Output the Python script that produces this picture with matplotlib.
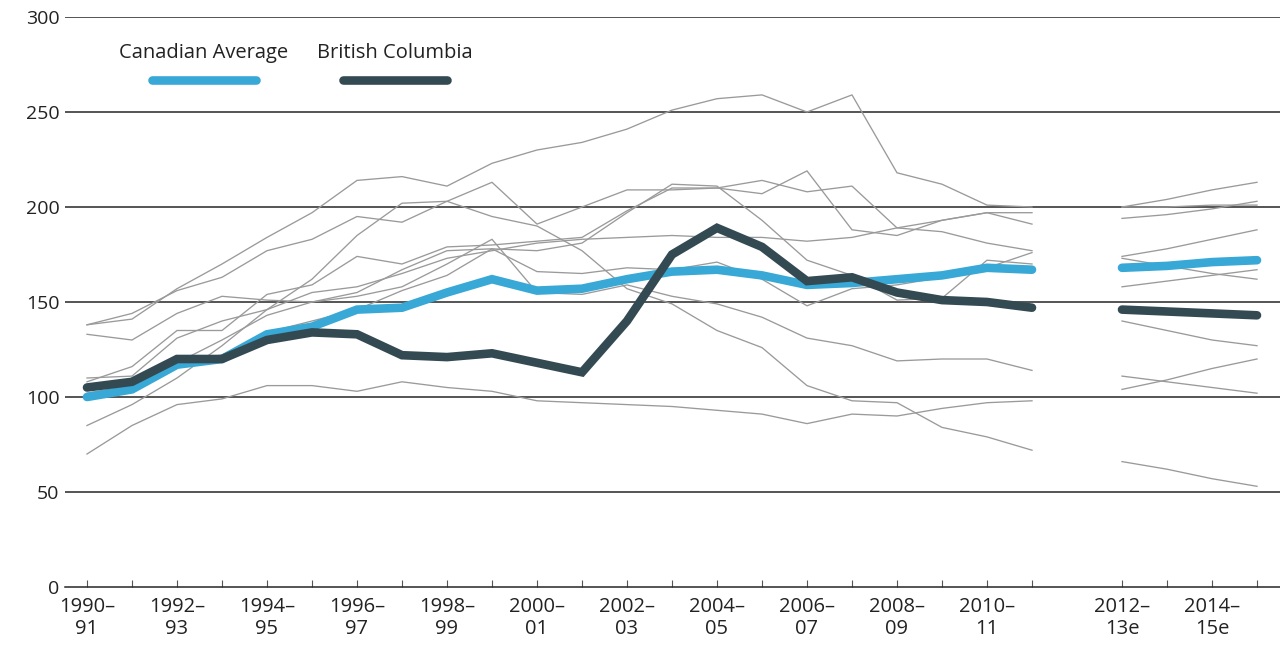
import numpy as np
import matplotlib
matplotlib.use('Agg')
import matplotlib.pyplot as plt

plt.rcParams['font.family'] = ['Open Sans', 'DejaVu Sans']

# Fiscal years, actual and estimated
years_hist = ['1990–91', '1991–92', '1992–93', '1993–94', '1994–95', '1995–96',
              '1996–97', '1997–98', '1998–99', '1999–00', '2000–01', '2001–02',
              '2002–03', '2003–04', '2004–05', '2005–06', '2006–07', '2007–08',
              '2008–09', '2009–10', '2010–11', '2011–12']
years_proj = ['2012–13e', '2013–14e', '2014–15e', '2015–16e']

canada_hist = [100, 104, 117, 120, 133, 137, 146, 147, 155, 162, 156, 157,
               162, 166, 167, 164, 159, 160, 162, 164, 168, 167]
canada_proj = [168, 169, 171, 172]

bc_hist = [105, 108, 120, 120, 130, 134, 133, 122, 121, 123, 118, 113,
           140, 175, 189, 179, 161, 163, 155, 151, 150, 147]
bc_proj = [146, 145, 144, 143]

# other provinces (grey lines)
others_hist = [
    [138, 141, 157, 170, 184, 197, 214, 216, 211, 223, 230, 234, 241, 251, 257, 259, 250, 259, 218, 212, 201, 200],
    [138, 144, 156, 163, 177, 183, 195, 192, 203, 213, 191, 200, 209, 209, 210, 214, 208, 211, 189, 187, 181, 177],
    [85, 96, 110, 127, 146, 162, 185, 202, 203, 195, 190, 177, 157, 149, 135, 126, 106, 98, 97, 84, 79, 72],
    [102, 106, 118, 130, 143, 150, 153, 158, 170, 183, 155, 154, 159, 153, 149, 142, 131, 127, 119, 120, 120, 114],
    [70, 85, 96, 99, 106, 106, 103, 108, 105, 103, 98, 97, 96, 95, 93, 91, 86, 91, 90, 94, 97, 98],
    [108, 116, 135, 135, 154, 159, 174, 170, 179, 180, 182, 184, 198, 210, 210, 207, 219, 188, 185, 193, 197, 191],
    [133, 130, 144, 153, 151, 150, 155, 167, 177, 178, 177, 181, 197, 212, 211, 193, 172, 164, 151, 152, 172, 170],
    [110, 111, 131, 140, 146, 155, 158, 165, 173, 177, 181, 183, 184, 185, 184, 184, 182, 184, 189, 193, 197, 197],
    [100, 104, 120, 122, 134, 140, 146, 156, 164, 178, 166, 165, 168, 167, 171, 162, 148, 157, 159, 163, 168, 176],
]
others_proj = [
    [200, 204, 209, 213],
    [200, 200, 201, 201],
    [194, 196, 199, 203],
    [174, 178, 183, 188],
    [173, 169, 165, 162],
    [158, 161, 164, 167],
    [140, 135, 130, 127],
    [111, 108, 105, 102],
    [104, 109, 115, 120],
    [66, 62, 57, 53],
]

x_hist = np.arange(len(years_hist))
x_proj = np.arange(len(years_proj)) + len(years_hist) + 1

GREY = '#9a9a9a'
BLUE = '#38a8d6'
DARK = '#344a53'
GRID = '#262626'

fig = plt.figure(figsize=(12.8, 6.48), dpi=100)
ax = fig.add_axes([65 / 1280, 61 / 648, 1215 / 1280, 570 / 648])

for vals in others_hist:
    ax.plot(x_hist, vals, color=GREY, lw=0.95, zorder=2)
for vals in others_proj:
    ax.plot(x_proj, vals, color=GREY, lw=0.95, zorder=2)

line_kw = dict(lw=6.2, solid_capstyle='round', solid_joinstyle='miter', zorder=4)
ax.plot(x_hist, canada_hist, color=BLUE, **line_kw)
ax.plot(x_proj, canada_proj, color=BLUE, **line_kw)
ax.plot(x_hist, bc_hist, color=DARK, **line_kw)
ax.plot(x_proj, bc_proj, color=DARK, **line_kw)

# horizontal rules
for yv in range(50, 301, 50):
    ax.axhline(yv, color=GRID, lw=1.1, zorder=1)

ax.set_xlim(-22 / 45, (1280 - 87) / 45)
ax.set_ylim(0, 300)
for side in ['top', 'right', 'left']:
    ax.spines[side].set_visible(False)
ax.spines['bottom'].set_color(GRID)
ax.spines['bottom'].set_linewidth(1.1)

ax.set_yticks(range(0, 301, 50))
ax.set_yticklabels([str(v) for v in range(0, 301, 50)])
ax.tick_params(axis='y', length=0, pad=4, labelsize=14, labelcolor='#222222')

all_x = list(x_hist) + list(x_proj)
all_years = years_hist + years_proj
ax.set_xticks(all_x)
labels = []
for i, yr in enumerate(all_years):
    if i % 2 == 0:
        a, b = yr.split('–')
        labels.append(a + '–\n' + b)
    else:
        labels.append('')
ax.set_xticklabels(labels, linespacing=1.15)
ax.tick_params(axis='x', direction='in', length=5, width=0.8, color='#555555',
               pad=7, labelsize=14.5, labelcolor='#222222')

# legend
leg = [('Canadian Average', BLUE, 0.0716, 0.1572), ('British Columbia', DARK, 0.2288, 0.3144)]
for name, col, x0, x1 in leg:
    ax.text((x0 + x1) / 2, 0.937, name, transform=ax.transAxes, ha='center',
            va='center', fontsize=14.5, color='#222222')
    ax.plot([x0, x1], [0.8895, 0.8895], transform=ax.transAxes, color=col,
            lw=6.2, solid_capstyle='round', clip_on=False, zorder=5)

fig.savefig('out.png', dpi=100, facecolor='white')
